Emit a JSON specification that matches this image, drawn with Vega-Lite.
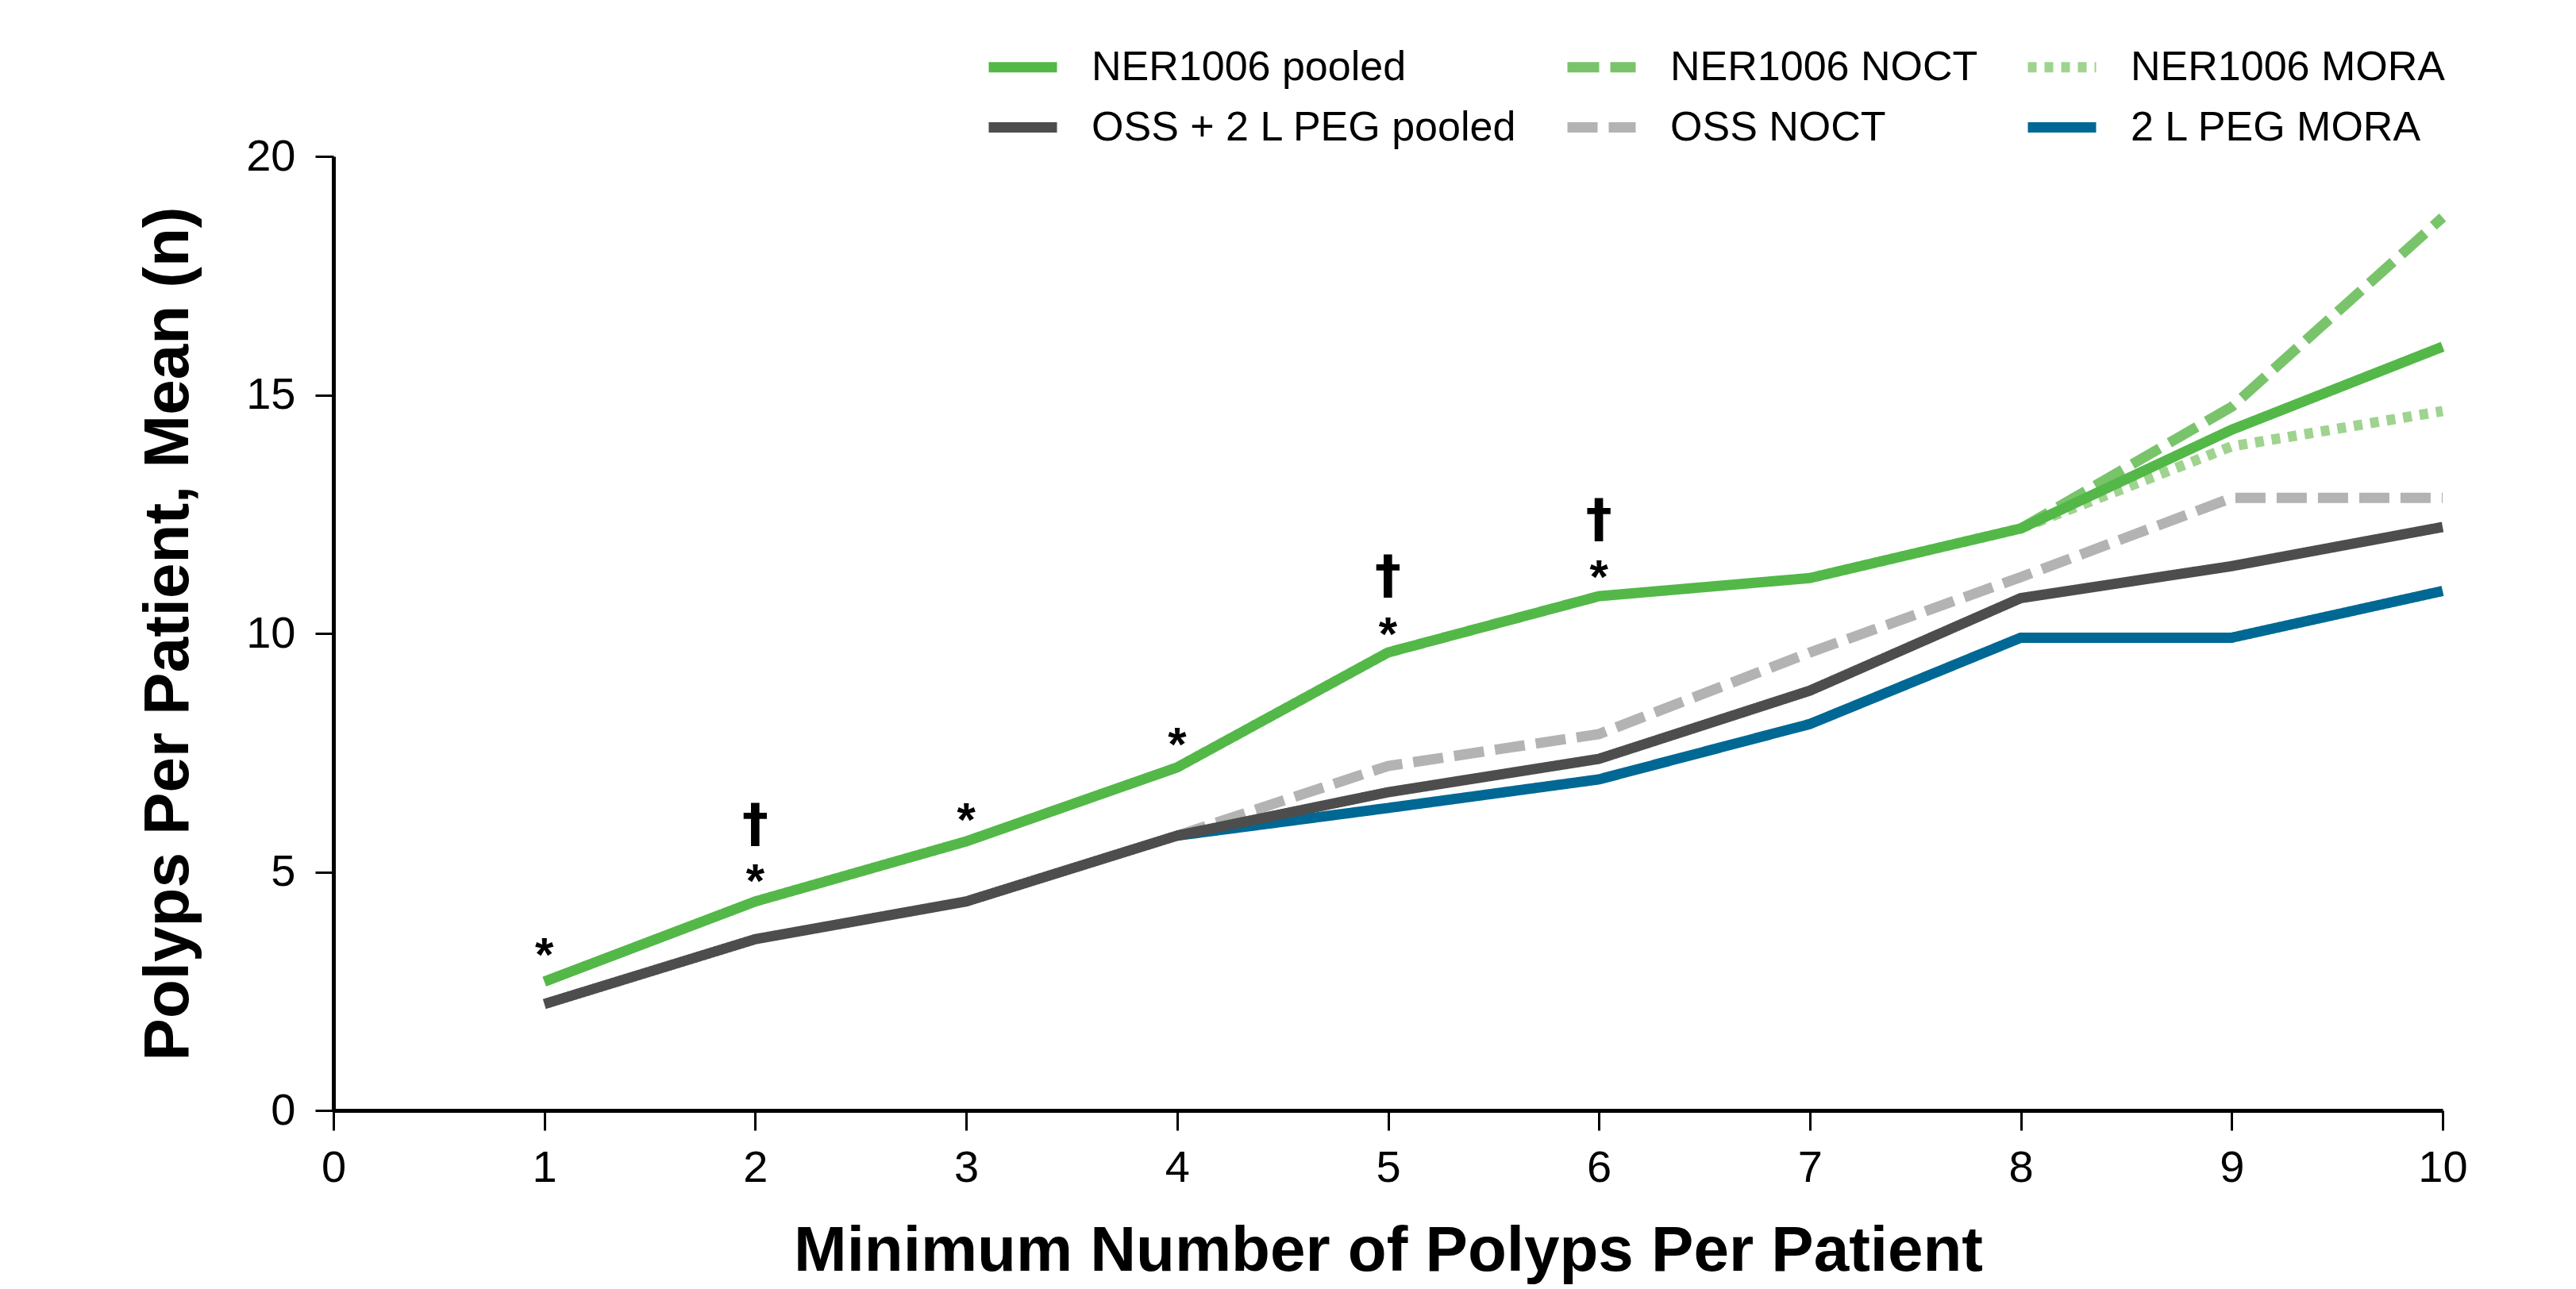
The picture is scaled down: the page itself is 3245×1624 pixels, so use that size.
{
  "$schema": "https://vega.github.io/schema/vega-lite/v6.json",
  "width": 2657,
  "height": 1202,
  "autosize": {"type": "none"},
  "padding": {"left": 420, "top": 197, "right": 168, "bottom": 225},
  "background": "white",
  "config": {
    "view": {"stroke": null},
    "font": "Liberation Sans",
    "axis": {
      "grid": false,
      "domainColor": "black",
      "domainWidth": 5,
      "tickColor": "black",
      "tickWidth": 3,
      "labelColor": "black",
      "labelFont": "Liberation Sans",
      "labelFontSize": 56,
      "labelFontWeight": "normal",
      "titleColor": "black",
      "titleFont": "Liberation Sans",
      "titleFontSize": 80,
      "titleFontWeight": "bold"
    },
    "legend": {
      "title": null,
      "orient": "none",
      "legendX": 819,
      "legendY": -162,
      "direction": "horizontal",
      "columns": 3,
      "columnPadding": 36,
      "rowPadding": -6,
      "padding": 0,
      "labelFontSize": 52,
      "labelFont": "Liberation Sans",
      "labelColor": "black",
      "labelLimit": 1000,
      "labelOffset": 37,
      "symbolType": "stroke",
      "symbolSize": 7396,
      "symbolStrokeWidth": 13
    }
  },
  "datasets": {
    "annot": [
      {"x": 1, "y": 3.48, "label": "*"},
      {"x": 2, "y": 5.02, "label": "*"},
      {"x": 2, "y": 5.97, "label": "†"},
      {"x": 3, "y": 6.31, "label": "*"},
      {"x": 4, "y": 7.89, "label": "*"},
      {"x": 5, "y": 10.2, "label": "*"},
      {"x": 5, "y": 11.18, "label": "†"},
      {"x": 6, "y": 11.4, "label": "*"},
      {"x": 6, "y": 12.36, "label": "†"}
    ]
  },
  "layer": [
    {
      "data": {
        "values": [
          {"series": "NER1006 NOCT", "min_polyps": 8, "mean": 12.2},
          {"series": "NER1006 NOCT", "min_polyps": 9, "mean": 14.75},
          {"series": "NER1006 NOCT", "min_polyps": 10, "mean": 18.72},
          {"series": "NER1006 MORA", "min_polyps": 8, "mean": 12.2},
          {"series": "NER1006 MORA", "min_polyps": 9, "mean": 13.92},
          {"series": "NER1006 MORA", "min_polyps": 10, "mean": 14.66},
          {"series": "OSS NOCT", "min_polyps": 4, "mean": 5.76},
          {"series": "OSS NOCT", "min_polyps": 5, "mean": 7.22},
          {"series": "OSS NOCT", "min_polyps": 6, "mean": 7.89},
          {"series": "OSS NOCT", "min_polyps": 7, "mean": 9.6},
          {"series": "OSS NOCT", "min_polyps": 8, "mean": 11.18},
          {"series": "OSS NOCT", "min_polyps": 9, "mean": 12.84},
          {"series": "OSS NOCT", "min_polyps": 10, "mean": 12.84},
          {"series": "2 L PEG MORA", "min_polyps": 4, "mean": 5.76},
          {"series": "2 L PEG MORA", "min_polyps": 5, "mean": 6.34},
          {"series": "2 L PEG MORA", "min_polyps": 6, "mean": 6.94},
          {"series": "2 L PEG MORA", "min_polyps": 7, "mean": 8.1},
          {"series": "2 L PEG MORA", "min_polyps": 8, "mean": 9.91},
          {"series": "2 L PEG MORA", "min_polyps": 9, "mean": 9.91},
          {"series": "2 L PEG MORA", "min_polyps": 10, "mean": 10.89},
          {"series": "OSS + 2 L PEG pooled", "min_polyps": 1, "mean": 2.23},
          {"series": "OSS + 2 L PEG pooled", "min_polyps": 2, "mean": 3.59},
          {"series": "OSS + 2 L PEG pooled", "min_polyps": 3, "mean": 4.38},
          {"series": "OSS + 2 L PEG pooled", "min_polyps": 4, "mean": 5.76},
          {"series": "OSS + 2 L PEG pooled", "min_polyps": 5, "mean": 6.67},
          {"series": "OSS + 2 L PEG pooled", "min_polyps": 6, "mean": 7.37},
          {"series": "OSS + 2 L PEG pooled", "min_polyps": 7, "mean": 8.8},
          {"series": "OSS + 2 L PEG pooled", "min_polyps": 8, "mean": 10.74},
          {"series": "OSS + 2 L PEG pooled", "min_polyps": 9, "mean": 11.41},
          {"series": "OSS + 2 L PEG pooled", "min_polyps": 10, "mean": 12.23},
          {"series": "NER1006 pooled", "min_polyps": 1, "mean": 2.7},
          {"series": "NER1006 pooled", "min_polyps": 2, "mean": 4.38},
          {"series": "NER1006 pooled", "min_polyps": 3, "mean": 5.64},
          {"series": "NER1006 pooled", "min_polyps": 4, "mean": 7.19},
          {"series": "NER1006 pooled", "min_polyps": 5, "mean": 9.6},
          {"series": "NER1006 pooled", "min_polyps": 6, "mean": 10.78},
          {"series": "NER1006 pooled", "min_polyps": 7, "mean": 11.16},
          {"series": "NER1006 pooled", "min_polyps": 8, "mean": 12.2},
          {"series": "NER1006 pooled", "min_polyps": 9, "mean": 14.27},
          {"series": "NER1006 pooled", "min_polyps": 10, "mean": 16.01}
        ]
      },
      "mark": {"type": "line", "strokeWidth": 13, "strokeCap": "butt", "strokeJoin": "miter"},
      "encoding": {
        "x": {
          "field": "min_polyps",
          "type": "quantitative",
          "scale": {"domain": [0, 10], "nice": false, "zero": false},
          "axis": {
            "title": "Minimum Number of Polyps Per Patient",
            "values": [0, 1, 2, 3, 4, 5, 6, 7, 8, 9, 10],
            "format": "d",
            "labelAngle": 0,
            "labelFlush": false,
            "labelPadding": 20,
            "tickSize": 25,
            "titlePadding": 38
          }
        },
        "y": {
          "field": "mean",
          "type": "quantitative",
          "scale": {"domain": [0, 20], "nice": false},
          "axis": {
            "title": "Polyps Per Patient, Mean (n)",
            "values": [0, 5, 10, 15, 20],
            "format": "d",
            "labelPadding": 25,
            "tickSize": 23,
            "titlePadding": 56
          }
        },
        "color": {
          "field": "series",
          "type": "nominal",
          "scale": {
            "domain": ["NER1006 pooled", "NER1006 NOCT", "NER1006 MORA", "OSS + 2 L PEG pooled", "OSS NOCT", "2 L PEG MORA"],
            "range": ["#53b848", "#79c46b", "#9fd38f", "#4d4d4d", "#b3b3b3", "#006894"]
          }
        },
        "strokeDash": {
          "field": "series",
          "type": "nominal",
          "scale": {
            "domain": ["NER1006 pooled", "NER1006 NOCT", "NER1006 MORA", "OSS + 2 L PEG pooled", "OSS NOCT", "2 L PEG MORA"],
            "range": [[1, 0], [40, 14], [11, 10], [1, 0], [38, 14], [1, 0]]
          }
        }
      }
    },
    {
      "data": {"name": "annot"},
      "transform": [{"filter": "datum.label == '*'"}],
      "mark": {"type": "text", "font": "Liberation Sans", "fontWeight": "bold", "fontSize": 60, "color": "black", "baseline": "middle", "align": "center", "dy": 15},
      "encoding": {
        "x": {"field": "x", "type": "quantitative"},
        "y": {"field": "y", "type": "quantitative"},
        "text": {"field": "label"}
      }
    },
    {
      "data": {"name": "annot"},
      "transform": [{"filter": "datum.label != '*'"}],
      "mark": {"type": "text", "font": "DejaVu Sans", "fontWeight": "bold", "fontSize": 66, "color": "black", "baseline": "middle", "align": "center"},
      "encoding": {
        "x": {"field": "x", "type": "quantitative"},
        "y": {"field": "y", "type": "quantitative"},
        "text": {"field": "label"}
      }
    }
  ]
}
